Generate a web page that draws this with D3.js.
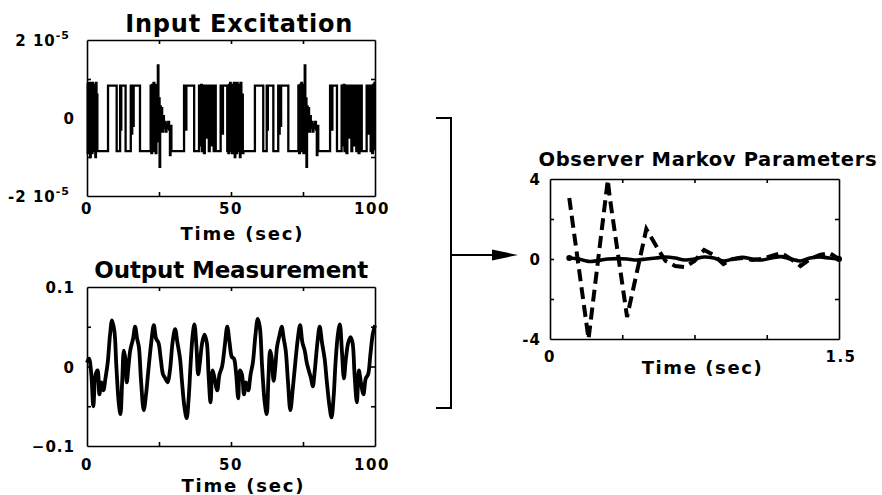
<!DOCTYPE html>
<html lang="en">
<head>
<meta charset="utf-8">
<title>Observer Markov Parameters</title>
<script src="https://cdn.jsdelivr.net/npm/d3@7"></script>
<style type="text/css">
  body { margin: 0; background: #fff; }
  text { font-family: "DejaVu Sans", sans-serif; font-weight: bold; fill: #000; }
</style>
</head>
<body>
<script>
// ---- data ----

// input excitation, step levels in units of 1e-5, [time s, level]
var inputSteps = [
  [0,0.9],[0.25,-0.9],[0.45,0.85],[0.7,-0.6],[0.9,0.9],[1.1,-1.0],[1.3,0.8],[1.5,0.3],[1.7,-0.9],[1.9,0.9],
  [2.1,-0.8],[2.3,0.85],[2.5,-0.85],[2.7,0.7],[2.9,-1.0],[3.1,0.9],[3.3,-0.5],[3.45,0.6],[3.6,-0.85],
  [7.3,0.83],[10.3,-0.85],[11.5,0.83],[11.7,-0.3],[11.9,0.83],[13.4,-0.85],[15.2,0.83],[15.5,-0.4],[15.7,0.83],
  [16.0,-0.2],[16.2,0.83],[18.4,-0.85],
  [22.1,0.83],[22.35,-0.9],[22.6,0.85],[22.85,-0.7],[23.1,0.9],[23.35,-0.85],[23.6,0.7],[23.85,-0.9],[24.1,0.85],
  [24.35,-0.6],[24.6,1.35],[24.8,-0.4],[25.0,0.5],[25.2,-1.25],[25.4,0.3],[25.6,-0.2],[25.85,0.25],[26.1,-0.35],
  [26.4,0.05],[26.7,-0.25],[27.0,-0.1],[27.3,-0.35],[27.6,-0.15],[27.9,-0.25],[28.2,-0.1],[28.5,-0.3],[28.8,-0.95],
  [29.0,-0.2],[29.3,-0.85],
  [33.7,0.83],[34.3,-0.3],[34.5,0.83],[37.2,-0.85],[38.9,0.83],[39.3,-0.7],[39.6,0.85],[39.9,-0.85],[40.2,0.83],
  [40.6,-0.9],[40.9,0.83],[41.3,-0.5],[41.6,0.83],[42.3,-0.85],[42.6,0.83],[43.1,-0.7],[43.4,0.83],[44.0,-0.85],
  [44.3,0.83],[44.7,-0.85],
  [46.4,0.83],[47.0,-0.4],[47.2,0.83],[48.7,-0.85],[48.9,0.83],[49.1,-0.9],[49.3,0.85],[49.5,-0.8],[49.7,0.9],
  [49.9,-0.85],[50.1,0.85],[50.3,-0.9],[50.5,0.83],[50.8,-0.7],[51.0,0.9],[51.3,-1.0],[51.5,0.8],[51.7,0.3],
  [51.9,-0.9],[52.1,0.9],[52.3,-0.8],[52.5,0.85],[52.7,-0.85],[52.9,0.7],[53.1,-1.0],[53.3,0.9],[53.6,-0.5],
  [53.9,0.6],[54.1,-0.9],[54.3,-0.85],
  [58.3,0.83],[61.2,-0.85],[62.4,0.83],[62.6,-0.3],[62.8,0.83],[64.7,-0.85],[66.4,0.83],[66.7,-0.4],[66.9,0.83],
  [67.2,-0.2],[67.4,0.83],[69.9,-0.85],
  [73.4,0.83],[73.65,-0.9],[73.9,0.85],[74.15,-0.7],[74.4,0.9],[74.65,-0.85],[74.9,0.7],[75.15,-0.9],[75.4,0.85],
  [75.6,1.35],[75.8,-0.5],[76.0,0.5],[76.2,-1.25],[76.4,0.3],[76.6,-0.2],[76.85,0.25],[77.1,-0.35],[77.4,0.05],
  [77.7,-0.25],[78.0,-0.1],[78.3,-0.35],[78.6,-0.15],[78.9,-0.25],[79.2,-0.1],[79.5,-0.3],[79.8,-0.95],[80.0,-0.2],
  [80.3,-0.85],
  [84.4,0.83],[85.0,-0.3],[85.2,0.83],[86.8,-0.85],[88.4,0.83],[88.8,-0.7],[89.1,0.85],[89.4,-0.85],[89.7,0.83],
  [90.1,-0.9],[90.4,0.83],[90.8,-0.5],[91.1,0.83],[91.8,-0.85],[92.1,0.83],[92.6,-0.7],[92.9,0.83],[93.5,-0.85],
  [93.8,0.83],[94.3,-0.9],[94.6,0.83],[95.4,-0.85],
  [97.1,0.83],[97.6,-0.4],[97.8,0.83],[98.5,-0.85],[98.7,0.83],[99.0,-0.9],[99.3,0.85],[99.5,-0.8],[99.8,0.9],[100,0.9]
];

// output measurement, [time s, value]
var outputPoints = [
  [0,0.005],[0.7,0.01],[1.5,-0.01],[2.2,-0.05],[3.0,-0.01],[3.7,-0.005],[4.3,-0.035],[5.0,-0.02],[5.7,-0.03],
  [6.4,-0.015],[7.2,0.005],[8.0,0.04],[8.7,0.058],[9.5,0.045],[10.2,0.0],[11.0,-0.045],[11.6,-0.06],[12.2,-0.02],
  [12.8,0.02],[13.3,0.01],[13.8,-0.02],[14.4,0.0],[15.0,0.02],[16.0,0.035],[16.7,0.05],[17.4,0.035],[18.0,0.025],
  [18.8,-0.02],[19.7,-0.055],[20.5,-0.035],[21.3,-0.005],[22.3,0.03],[23.2,0.052],[24.0,0.035],[24.8,0.03],
  [25.6,0.01],[26.4,-0.01],[27.2,-0.015],[28.0,-0.02],[28.8,-0.005],[29.7,0.03],[30.6,0.047],[31.4,0.03],
  [32.3,0.01],[33.0,-0.02],[33.8,-0.05],[34.6,-0.065],[35.3,-0.04],[36.0,0.005],[36.7,0.04],[37.3,0.053],
  [38.0,0.025],[38.6,-0.01],[39.2,0.005],[40.0,0.03],[40.8,0.04],[41.6,0.03],[42.2,-0.01],[42.9,-0.045],
  [43.6,-0.005],[44.3,-0.015],[45.2,-0.03],[46.0,-0.01],[46.9,0.0],[47.8,0.025],[48.7,0.05],[49.5,0.03],
  [50.3,0.012],[51.0,0.01],[51.8,-0.01],[52.5,-0.04],[53.1,-0.005],[53.8,-0.01],[54.5,-0.035],[55.2,-0.02],
  [56.0,-0.03],[56.8,-0.01],[57.6,0.005],[58.5,0.04],[59.3,0.06],[60.0,0.05],[60.8,0.0],[61.7,-0.045],
  [62.4,-0.06],[63.0,-0.015],[63.6,0.02],[64.1,0.012],[64.8,-0.018],[65.4,0.0],[66.0,0.025],[66.9,0.04],
  [67.6,0.05],[68.3,0.035],[69.0,0.02],[69.8,-0.02],[70.6,-0.055],[71.4,-0.03],[72.2,0.0],[73.2,0.035],
  [74.0,0.052],[74.8,0.03],[75.6,0.02],[76.3,0.005],[77.0,-0.005],[77.8,-0.015],[78.4,-0.025],[79.1,-0.005],
  [80.0,0.03],[80.8,0.05],[81.6,0.03],[82.5,0.01],[83.3,-0.02],[84.2,-0.05],[84.9,-0.064],[85.6,-0.04],
  [86.3,0.005],[87.1,0.04],[87.8,0.053],[88.5,0.02],[89.2,-0.015],[89.9,0.01],[90.7,0.03],[91.5,0.037],
  [92.2,0.03],[92.9,-0.01],[93.7,-0.045],[94.4,-0.005],[95.1,-0.02],[96.0,-0.035],[96.8,-0.015],[97.6,-0.01],
  [98.4,0.015],[99.2,0.04],[100,0.052]
];

// observer Markov parameters
var markovTime  = [0.1,0.15,0.2,0.25,0.3,0.35,0.4,0.45,0.5,0.55,0.6,0.65,0.7,0.75,0.8,0.85,0.9,0.95,1.0,1.05,1.1,1.15,1.2,1.25,1.3,1.35,1.4,1.45,1.5];
var markovSolid = [0.05,0.0,-0.12,-0.08,0.0,0.02,0.0,-0.05,0.0,0.05,0.1,0.05,-0.05,0.0,0.1,0.05,-0.1,0.0,0.08,0.0,-0.05,0.05,0.12,0.0,-0.1,0.05,0.1,0.05,0.0];
var dashedTime  = [0.1,0.2,0.3,0.31,0.4,0.5,0.56,0.6,0.65,0.7,0.75,0.8,0.85,0.9,0.95,1.0,1.05,1.1,1.15,1.2,1.25,1.3,1.35,1.4,1.45,1.5];
var dashedValue = [3.05,-4.0,3.95,3.1,-2.9,1.5,0.5,-0.1,-0.35,-0.4,-0.1,0.45,0.2,-0.25,0.0,0.05,-0.05,0.0,0.15,0.3,0.0,-0.35,0.0,0.2,0.3,0.0];

// tick labels
var inputXTicks  = [0, 50, 100];
var inputYTicks  = [2, 0, -2];       // times 1e-5
var outputYTicks = [0.1, 0, -0.1];
var markovXTicks = [0, 1.5];
var markovYTicks = [4, 0, -4];

// ---- layout ----
var width = 882, height = 495;

var svg = d3.select("body").append("svg")
    .attr("width", width)
    .attr("height", height);

svg.append("rect").attr("width", width).attr("height", height).attr("fill", "#fff");

var xIn  = d3.scaleLinear().domain([0, 100]).range([87, 375]);
var yIn  = d3.scaleLinear().domain([-2, 2]).range([196, 40]);
var xOut = d3.scaleLinear().domain([0, 100]).range([87, 375]);
var yOut = d3.scaleLinear().domain([-0.1, 0.1]).range([446, 287]);
var xMk  = d3.scaleLinear().domain([0, 1.5]).range([550, 839]);
var yMk  = d3.scaleLinear().domain([-4, 4]).range([339, 179]);

// frame = four axes with short inward ticks
function frame(x, y, xt, yt) {
  var g = svg.append("g").attr("class", "frame");
  var y0 = y.range()[0], y1 = y.range()[1];
  var x0 = x.range()[0], x1 = x.range()[1];
  g.append("g").attr("transform", "translate(0," + y0 + ")")
    .call(d3.axisBottom(x).tickValues(xt).tickSizeInner(-4).tickSizeOuter(0).tickFormat(""));
  g.append("g").attr("transform", "translate(0," + y1 + ")")
    .call(d3.axisTop(x).tickValues(xt).tickSizeInner(-4).tickSizeOuter(0).tickFormat(""));
  g.append("g").attr("transform", "translate(" + x0 + ",0)")
    .call(d3.axisLeft(y).tickValues(yt).tickSizeInner(-4).tickSizeOuter(0).tickFormat(""));
  g.append("g").attr("transform", "translate(" + x1 + ",0)")
    .call(d3.axisRight(y).tickValues(yt).tickSizeInner(-4).tickSizeOuter(0).tickFormat(""));
  g.selectAll("path.domain").attr("stroke", "#000").attr("stroke-width", 1.6);
  g.selectAll(".tick line").attr("stroke", "#000").attr("stroke-width", 1.6);
}

frame(xIn, yIn, [25, 50, 75], [-1, 0, 1]);
frame(xOut, yOut, [25, 50, 75], [-0.05, 0, 0.05]);
frame(xMk, yMk, [0.375, 0.75, 1.125], [-2, 0, 2]);

// ---- series ----
var inputLine = d3.line()
    .x(function (d) { return xIn(d[0]); })
    .y(function (d) { return yIn(d[1]); })
    .curve(d3.curveStepAfter);

svg.append("path").datum(inputSteps)
    .attr("d", inputLine)
    .attr("fill", "none").attr("stroke", "#000").attr("stroke-width", 2.3);

var outputLine = d3.line()
    .x(function (d) { return xOut(d[0]); })
    .y(function (d) { return yOut(d[1]); })
    .curve(d3.curveCatmullRom);

svg.append("path").datum(outputPoints)
    .attr("d", outputLine)
    .attr("fill", "none").attr("stroke", "#000").attr("stroke-width", 3.8)
    .attr("stroke-linejoin", "round");

var mkLine = d3.line()
    .x(function (d) { return xMk(d.t); })
    .y(function (d) { return yMk(d.v); });

var solidData = markovTime.map(function (t, i) { return { t: t, v: markovSolid[i] }; });
var dashData = dashedTime.map(function (t, i) { return { t: t, v: dashedValue[i] }; });

svg.append("path").datum(dashData)
    .attr("d", mkLine)
    .attr("fill", "none").attr("stroke", "#000").attr("stroke-width", 4)
    .attr("stroke-dasharray", "12,6");

svg.append("path").datum(solidData)
    .attr("d", mkLine.curve(d3.curveCatmullRom))
    .attr("fill", "none").attr("stroke", "#000").attr("stroke-width", 3.6);

svg.selectAll("circle.end").data([solidData[0], solidData[solidData.length - 1]])
  .enter().append("circle")
    .attr("cx", function (d) { return xMk(d.t); })
    .attr("cy", function (d) { return yMk(d.v); })
    .attr("r", 3)
    .attr("fill", "#000");

// ---- text ----
function label(x, y, s, size, anchor, len) {
  var t = svg.append("text")
      .attr("x", x).attr("y", y)
      .attr("font-size", size)
      .attr("text-anchor", anchor || "middle")
      .text(s);
  if (len) t.attr("textLength", len).attr("lengthAdjust", "spacing");
  return t;
}

label(238.8, 31.5, "Input Excitation", 24, "middle", 227);
label(231.3, 278.3, "Output Measurement", 23, "middle", 274);
label(707.5, 166, "Observer Markov Parameters", 19.5, "middle", 338);

label(241.5, 240, "Time (sec)", 18, "middle", 122);
label(242.5, 492, "Time (sec)", 18, "middle", 122);
label(701.7, 374, "Time (sec)", 18, "middle", 120);

// y tick labels, top panel (2 10^-5 style)
inputYTicks.forEach(function (v) {
  var t = svg.append("text")
      .attr("x", v === 0 ? 75 : 70)
      .attr("y", yIn(v) + 6)
      .attr("font-size", 15)
      .attr("text-anchor", "end")
      .attr("letter-spacing", 1);
  if (v === 0) {
    t.text("0");
  } else {
    t.append("tspan").text((v < 0 ? "-" : "") + Math.abs(v) + " 10");
    t.append("tspan").attr("dy", -7).attr("font-size", 11).text("-5");
  }
});

inputXTicks.forEach(function (v) {
  label(xIn(v) - (v === 100 ? 3 : 0), 213.5, String(v), 15).attr("letter-spacing", 1.5);
});

outputYTicks.forEach(function (v) {
  label(75, yOut(v) + 6, v === 0 ? "0" : d3.format(".1f")(v), 15, "end").attr("letter-spacing", 1);
});
inputXTicks.forEach(function (v) {
  label(xOut(v) - (v === 100 ? 3 : 0), 470, String(v), 15).attr("letter-spacing", 1.5);
});

markovYTicks.forEach(function (v) {
  label(541, yMk(v) + 6, String(v), 15, "end").attr("letter-spacing", 1);
});
markovXTicks.forEach(function (v) {
  label(xMk(v) + (v === 0 ? 0 : 2), 361.7, String(v), 15).attr("letter-spacing", 1.5);
});

// ---- bracket and arrow ----
svg.append("path")
    .attr("d", "M436,118H451V408H436")
    .attr("fill", "none").attr("stroke", "#000").attr("stroke-width", 2);
svg.append("line")
    .attr("x1", 451).attr("x2", 494).attr("y1", 255).attr("y2", 255)
    .attr("stroke", "#000").attr("stroke-width", 2);
svg.append("path")
    .attr("d", "M492,249.5L518,255L492,260.5Z")
    .attr("fill", "#000");
</script>
</body>
</html>
